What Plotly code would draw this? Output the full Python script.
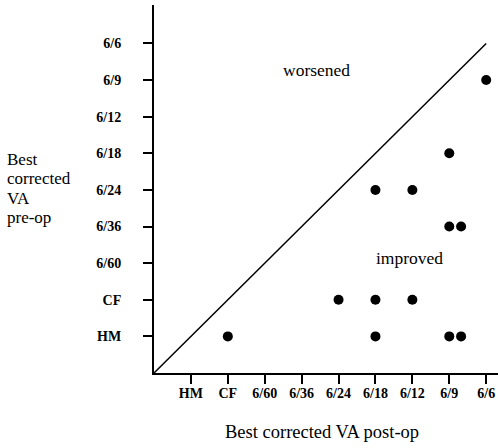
import plotly.graph_objects as go

# Visual acuity scale (ordinal positions 1..9)
va_labels = ["HM", "CF", "6/60", "6/36", "6/24", "6/18", "6/12", "6/9", "6/6"]
va_positions = [1, 2, 3, 4, 5, 6, 7, 8, 9]

# Patients: post-op VA (x) vs pre-op VA (y)
post_op = [2, 9, 8, 6, 7, 8, 8.32, 5, 6, 7, 6, 8, 8.32]
pre_op = [1, 8, 6, 5, 5, 4, 4, 2, 2, 2, 1, 1, 1]

# Line of no change
diag_x = [0, 9]
diag_y = [0, 9]

y_title_lines = ["Best", "corrected", "VA", "pre-op"]
y_title_pos = [0.581, 0.528, 0.475, 0.422]

serif = "Liberation Serif, Times New Roman, serif"

fig = go.Figure()
fig.add_trace(go.Scatter(x=diag_x, y=diag_y, mode="lines",
                         line=dict(color="black", width=1.5),
                         showlegend=False, hoverinfo="skip"))
fig.add_trace(go.Scatter(x=post_op, y=pre_op, mode="markers",
                         marker=dict(color="black", size=10),
                         showlegend=False, cliponaxis=False))

fig.add_annotation(x=4.39, y=8.28, text="worsened", showarrow=False,
                   font=dict(family=serif, size=17.5, color="black"))
fig.add_annotation(x=6.91, y=3.14, text="improved", showarrow=False,
                   font=dict(family=serif, size=17.5, color="black"))
for line, ypos in zip(y_title_lines, y_title_pos):
    fig.add_annotation(xref="paper", yref="paper", x=-0.43, y=ypos,
                       xanchor="left", yanchor="middle", borderpad=0,
                       text=line, showarrow=False,
                       font=dict(family=serif, size=17, color="black"))
fig.add_annotation(xref="paper", yref="paper", x=0.488, y=-0.160,
                   xanchor="center", yanchor="middle",
                   text="Best corrected VA post-op", showarrow=False,
                   font=dict(family=serif, size=18.5, color="black"))

fig.update_layout(
    width=498, height=448,
    margin=dict(l=154, r=0, t=5, b=75),
    plot_bgcolor="white", paper_bgcolor="white",
    font=dict(family=serif, color="black"),
    xaxis=dict(range=[0, 9.32], tickvals=va_positions, ticktext=va_labels,
               showgrid=False, zeroline=False, showline=True,
               linecolor="black", linewidth=2,
               ticks="outside", ticklen=9, tickwidth=1.5, tickcolor="black",
               tickfont=dict(family=serif, size=14, color="black", weight="bold"),
               ticklabelstandoff=-3, automargin=False),
    yaxis=dict(range=[0, 10.05], tickvals=va_positions, ticktext=va_labels,
               showgrid=False, zeroline=False, showline=True,
               linecolor="black", linewidth=2,
               ticks="outside", ticklen=9, tickwidth=1.5, tickcolor="black",
               tickfont=dict(family=serif, size=14, color="black", weight="bold"),
               ticklabelstandoff=19, automargin=False),
)

fig.write_html("out.html", config={"displayModeBar": False},
               post_script="document.body.style.margin='0';")
